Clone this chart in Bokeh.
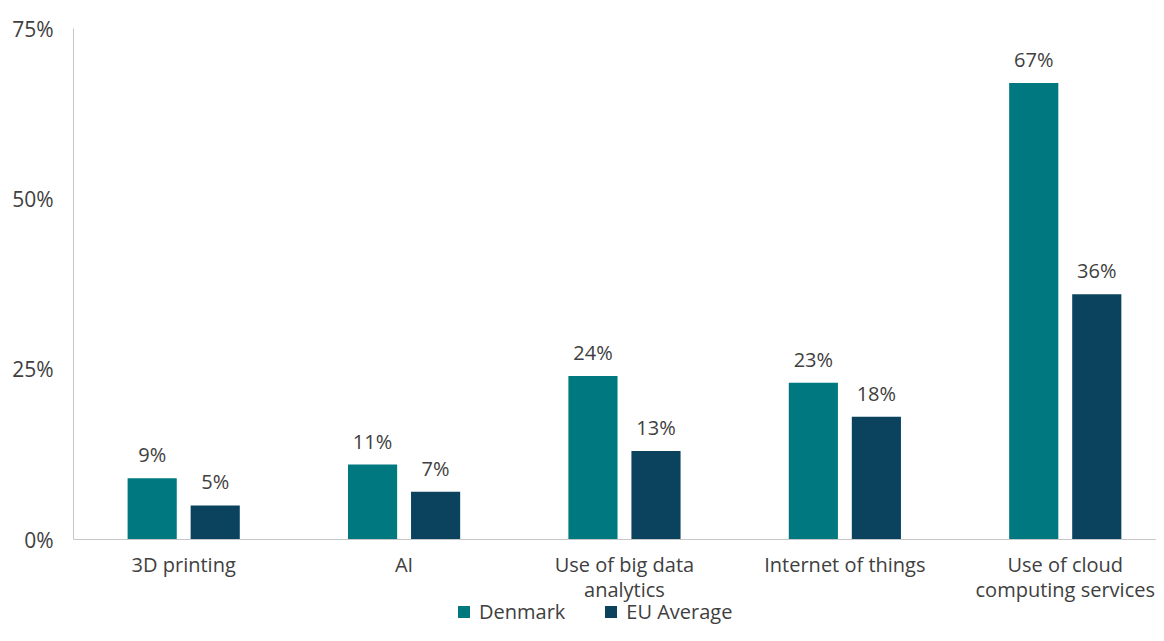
from bokeh.plotting import figure
from bokeh.models import ColumnDataSource, Range1d, FixedTicker, Legend, LegendItem, NumeralTickFormatter
from bokeh.core.properties import value
from bokeh.embed import file_html
from bokeh.resources import INLINE

categories = ["3D printing", "AI", "Use of big data\nanalytics", "Internet of things", "Use of cloud\ncomputing services"]
denmark = [9, 11, 24, 23, 67]
eu_average = [5, 7, 13, 18, 36]
y_ticks = [0, 25, 50, 75]

FONT = "Open Sans"
TXT = "#404040"
C_DK = "#007880"
C_EU = "#0b435e"

centers = [i + 0.5 for i in range(len(categories))]
off = 0.143
bw = 0.223

src_dk = ColumnDataSource(dict(x=[c - off for c in centers], top=denmark, lab=[f"{v}%" for v in denmark]))
src_eu = ColumnDataSource(dict(x=[c + off for c in centers], top=eu_average, lab=[f"{v}%" for v in eu_average]))

p = figure(width=1156, height=625, output_backend="svg", toolbar_location=None,
           x_range=Range1d(0, 4.914), y_range=Range1d(-12.62, 75),
           min_border_left=73, min_border_right=0, min_border_top=28, min_border_bottom=0)
p.outline_line_color = None
p.xgrid.visible = False
p.ygrid.visible = False

r_dk = p.vbar(x="x", top="top", width=bw, source=src_dk, fill_color=C_DK, line_color=None)
r_eu = p.vbar(x="x", top="top", width=bw, source=src_eu, fill_color=C_EU, line_color=None)

for s in (src_dk, src_eu):
    p.text(x="x", y="top", text="lab", source=s, text_align="center", text_baseline="bottom",
           y_offset=-10, text_font=value(FONT), text_font_size="20px", text_color=TXT)

p.xaxis.fixed_location = 0
p.xaxis.ticker = FixedTicker(ticks=centers)
p.xaxis.major_label_overrides = {c: lab for c, lab in zip(centers, categories)}
p.xaxis.major_tick_line_color = None
p.xaxis.minor_tick_line_color = None
p.xaxis.axis_line_color = "#c6c6c6"
p.xaxis.major_label_text_font = FONT
p.xaxis.major_label_text_font_size = "20px"
p.xaxis.major_label_text_color = TXT
p.xaxis.major_label_text_line_height = 0.96
p.xaxis.major_label_standoff = 5

p.yaxis.ticker = FixedTicker(ticks=y_ticks)
p.yaxis.bounds = (0, 75)
p.yaxis.formatter = NumeralTickFormatter(format="0")
p.yaxis.major_label_overrides = {t: f"{t}%" for t in y_ticks}
p.yaxis.major_tick_line_color = None
p.yaxis.minor_tick_line_color = None
p.yaxis.axis_line_color = "#c6c6c6"
p.yaxis.major_label_text_font = FONT
p.yaxis.major_label_text_font_size = "21px"
p.yaxis.major_label_text_color = TXT
p.yaxis.major_label_standoff = 14

legend = Legend(items=[LegendItem(label="Denmark", renderers=[r_dk]),
                       LegendItem(label="EU Average", renderers=[r_eu])],
                orientation="horizontal", location=(383, 0),
                label_text_font=FONT, label_text_font_size="20px", label_text_color=TXT,
                glyph_width=15, glyph_height=15, spacing=38, padding=0, margin=0,
                label_height=20, border_line_color=None, background_fill_alpha=0, label_standoff=8)
p.add_layout(legend, "center")

open("out.html", "w").write(file_html(p, INLINE))
